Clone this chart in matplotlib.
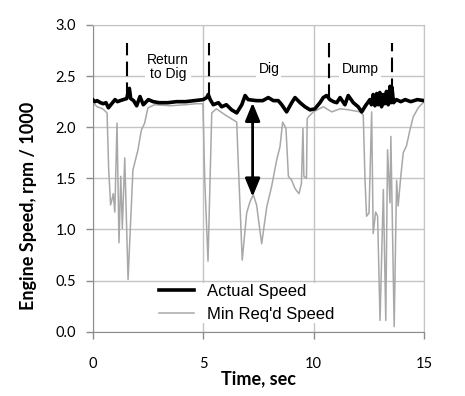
import matplotlib
matplotlib.use('Agg')
import matplotlib.pyplot as plt

# actual engine speed (rpm/1000)
t_act = [0.0, 0.1, 0.2, 0.35, 0.48, 0.6, 0.71, 0.86, 1.01, 1.12, 1.24, 1.38, 1.54, 1.62,
         1.66, 1.72, 1.85, 1.99, 2.14, 2.29, 2.52, 2.74, 3.0, 3.4, 3.8, 4.2, 4.6, 5.0,
         5.16, 5.23, 5.32, 5.46, 5.69, 5.84, 6.05, 6.29, 6.52, 6.75, 6.9, 7.04, 7.42,
         7.7, 7.95, 8.18, 8.4, 8.56, 8.78, 9.01, 9.16, 9.39, 9.61, 9.84, 10.06, 10.29,
         10.44, 10.59, 10.74, 10.9, 11.05, 11.2, 11.42, 11.57, 11.8, 12.02, 12.18, 12.35,
         12.55, 12.62, 12.7, 12.78, 12.86, 12.92, 13.0, 13.08, 13.15, 13.22, 13.3, 13.38,
         13.46, 13.5, 13.55, 13.62, 13.75, 13.95, 14.15, 14.4, 14.7, 15.0]
v_act = [2.27, 2.25, 2.26, 2.24, 2.23, 2.24, 2.19, 2.23, 2.27, 2.25, 2.26, 2.27, 2.28, 2.36,
         2.38, 2.28, 2.26, 2.21, 2.30, 2.22, 2.27, 2.25, 2.24, 2.24, 2.25, 2.25, 2.26, 2.27,
         2.29, 2.32, 2.27, 2.22, 2.24, 2.20, 2.22, 2.17, 2.14, 2.22, 2.31, 2.27, 2.26,
         2.26, 2.29, 2.26, 2.26, 2.22, 2.15, 2.24, 2.29, 2.24, 2.20, 2.17, 2.18, 2.24,
         2.29, 2.31, 2.27, 2.25, 2.24, 2.29, 2.22, 2.31, 2.24, 2.20, 2.15, 2.21,
         2.27, 2.22, 2.32, 2.21, 2.33, 2.22, 2.34, 2.20, 2.32, 2.23, 2.35, 2.22,
         2.40, 2.24, 2.39, 2.24, 2.27, 2.25, 2.27, 2.25, 2.27, 2.26]

# minimum required speed (rpm/1000)
t_min = [0.0, 0.2, 0.45, 0.65, 0.72, 0.81, 0.88, 0.93, 1.0, 1.1, 1.19, 1.27, 1.34, 1.45,
         1.6, 1.82, 2.05, 2.2, 2.35, 2.5, 2.8, 3.5, 4.2, 4.7, 4.99, 5.07, 5.22, 5.39, 5.6,
         6.0, 6.3, 6.52, 6.59, 6.77, 6.97, 7.12, 7.27, 7.42, 7.65, 7.88, 8.1, 8.33, 8.48,
         8.6, 8.75, 8.86, 9.01, 9.16, 9.34, 9.45, 9.52, 9.56, 9.68, 9.71, 9.76, 9.99,
         10.44, 10.52, 10.82, 11.2, 11.6, 12.1, 12.25, 12.33, 12.4, 12.51, 12.63, 12.7,
         12.81, 12.9, 13.01, 13.16, 13.27, 13.35, 13.46, 13.5, 13.65, 13.76, 13.83, 13.95,
         14.06, 14.21, 14.36, 14.51, 14.74, 14.96]
v_min = [2.24, 2.2, 2.18, 2.14, 1.6, 1.24, 1.3, 1.35, 1.17, 2.04, 0.87, 1.52, 1.01, 1.7,
         0.51, 1.58, 1.78, 1.97, 2.04, 2.19, 2.22, 2.21, 2.22, 2.23, 2.23, 1.5, 0.69, 2.14, 2.18,
         2.12, 2.08, 2.05, 1.65, 0.7, 1.16, 1.27, 1.34, 1.24, 0.86, 1.22, 1.42, 1.68, 1.81,
         2.05, 1.99, 1.52, 1.48, 1.4, 1.35, 1.45, 1.99, 1.52, 1.5, 2.08, 2.1, 2.15,
         2.2, 2.19, 2.15, 2.18, 2.17, 2.15, 2.12, 1.48, 1.13, 1.16, 2.15, 0.96,
         1.17, 1.13, 0.11, 1.39, 0.11, 1.78, 1.26, 1.91, 0.05, 1.48, 1.23, 1.52,
         1.75, 1.82, 1.97, 2.1, 2.19, 2.24]

# phase boundaries and labels
phase_t = [1.54, 5.28, 10.71, 13.53]
phase_top = 2.82
phase_bot = [2.30, 2.30, 2.28, 2.33]
label_txt = ['Return\nto Dig', 'Dig', 'Dump']
label_t = [3.42, 7.98, 12.1]
label_v = [2.59, 2.57, 2.57]

# speed margin arrow
arrow_t = 7.24
arrow_v = (2.24, 1.32)

fig = plt.figure(figsize=(4.65, 3.96), dpi=100)
ax = fig.add_axes([0.1994, 0.1624, 0.7124, 0.7745])

grid_c = '#c4c4c4'
ax.set_xlim(0, 15)
ax.set_ylim(0, 3.0)
ax.set_xticks([0, 5, 10, 15])
ax.set_yticks([0, 0.5, 1.0, 1.5, 2.0, 2.5, 3.0])
ax.set_yticklabels(['%.1f' % y for y in ax.get_yticks()])
ax.grid(True, color=grid_c, lw=1.0, zorder=0)
ax.set_axisbelow(True)
for s in ['top', 'right']:
    ax.spines[s].set_color(grid_c)
for s in ['left', 'bottom']:
    ax.spines[s].set_color('#8c8c8c')
ax.tick_params(axis='both', colors='#8c8c8c', labelcolor='black', length=5, width=1,
               labelsize=10.5)
ax.tick_params(axis='x', pad=13)
ax.tick_params(axis='y', pad=7)
for lab in ax.get_xticklabels() + ax.get_yticklabels():
    lab.set_family('Lato')

ax.plot(t_min, v_min, color='#a8a8a8', lw=1.1, zorder=2, label="Min Req'd Speed")
ax.plot(t_act, v_act, color='black', lw=2.6, zorder=3, label='Actual Speed')

for x, b in zip(phase_t, phase_bot):
    ax.plot([x, x], [b, phase_top], color='black', lw=1.5, dashes=(7, 3), zorder=4)

for txt, x, y in zip(label_txt, label_t, label_v):
    ax.text(x, y, txt, ha='center', va='center', fontsize=10, family='Liberation Sans',
            linespacing=0.95, zorder=5,
            bbox=dict(facecolor='white', edgecolor='none', pad=1.5))

ax.annotate('', xy=(arrow_t, arrow_v[1]), xytext=(arrow_t, arrow_v[0]),
            arrowprops=dict(arrowstyle='<|-|>,head_length=1.1,head_width=0.45',
                            color='black', lw=2, shrinkA=0, shrinkB=0), zorder=6)

h, l = ax.get_legend_handles_labels()
leg = ax.legend(h[::-1], l[::-1], loc='lower left', bbox_to_anchor=(0.17, 0.0),
                frameon=True, facecolor='white', edgecolor='none', framealpha=1,
                fancybox=False, handlelength=2.1, handletextpad=0.75, labelspacing=0.45,
                prop={'family': 'Liberation Sans', 'size': 12}, borderpad=0.1)

ax.set_xlabel('Time, sec', fontsize=13, fontweight='bold', family='Lato')
ax.xaxis.set_label_coords(0.5, -0.125)
ax.set_ylabel('Engine Speed, rpm / 1000', fontsize=13, fontweight='bold', family='Lato')
ax.yaxis.set_label_coords(-0.168, 0.41)

fig.savefig('out.png', dpi=100)
